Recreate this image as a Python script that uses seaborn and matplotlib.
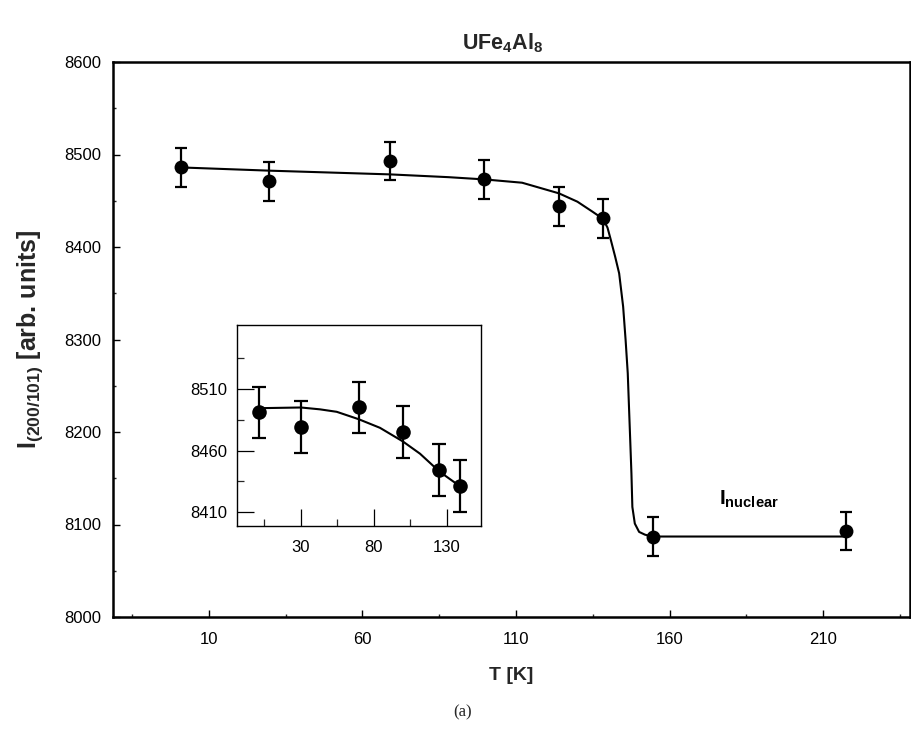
import matplotlib
matplotlib.use("Agg")
import matplotlib.pyplot as plt
import seaborn as sns
import pandas as pd

# ---- data ----
T_main = [1, 29.5, 69, 99.5, 124, 138.5, 154.5, 217.5]
I_main = [8486, 8471, 8493, 8473, 8444, 8431, 8087, 8093]
err_main = [21, 21, 21, 21, 21, 21, 21, 21]

fit_T = [1, 30, 69, 88, 100, 112, 124, 130, 135, 138.3, 139.8, 140.9, 142.3,
         143.6, 144.9, 145.7, 146.4, 146.8, 147.2, 147.6, 147.9, 148.7, 150.1,
         152, 154.4, 217.5]
fit_I = [8486, 8482.5, 8478.5, 8475.5, 8473, 8469.5, 8458, 8449, 8438, 8430.5,
         8421, 8407.5, 8389.5, 8371.5, 8335.5, 8299.5, 8263.5, 8227.5, 8191.5,
         8155, 8119, 8101, 8092, 8089, 8087, 8087]

T_inset = [1.7, 30.2, 69.7, 99.9, 125, 139.2]
I_inset = [8491, 8479, 8495, 8475, 8444, 8431]
err_inset = [21, 21, 21, 21, 21, 21]

fit_inset_T = [4.4, 30.2, 43.2, 54.7, 69.7, 84.3, 99.9, 111.7, 125, 139.1]
fit_inset_I = [8494.5, 8495, 8493.5, 8491.5, 8485.5, 8478.5, 8467.5, 8457.5, 8443, 8431]

main_xticks = [10, 60, 110, 160, 210]
main_xminor = [-15, 35, 85, 135, 185, 235]
main_yticks = [8000, 8100, 8200, 8300, 8400, 8500, 8600]
main_yminor = [8050, 8150, 8250, 8350, 8450, 8550]
inset_xticks = [30, 80, 130]
inset_xminor = [5, 55, 105]
inset_yticks = [8410, 8460, 8510]
inset_yminor = [8435, 8485, 8535]

# ---- style ----
sns.set_theme(style="ticks")
plt.rcParams["font.family"] = ["Liberation Sans", "DejaVu Sans"]
plt.rcParams["mathtext.fontset"] = "custom"
plt.rcParams["mathtext.rm"] = "Liberation Sans"
plt.rcParams["mathtext.bf"] = "Liberation Sans:bold"
plt.rcParams["mathtext.it"] = "Liberation Sans:italic"

W, H = 912, 730
fig = plt.figure(figsize=(W / 100, H / 100), dpi=100)
fig.patch.set_facecolor("white")

def frac(x0, y0, x1, y1):
    return [x0 / W, 1 - y1 / H, (x1 - x0) / W, (y1 - y0) / H]

ax = fig.add_axes(frac(112.7, 62, 910, 617))
ax.set_facecolor("white")

df_fit = pd.DataFrame({"T": fit_T, "I": fit_I})
df_pts = pd.DataFrame({"T": T_main, "I": I_main, "err": err_main})

sns.lineplot(data=df_fit, x="T", y="I", ax=ax, color="black", linewidth=1.5,
             sort=False, estimator=None)
ax.errorbar(df_pts["T"], df_pts["I"], yerr=df_pts["err"], fmt="none",
            ecolor="black", elinewidth=1.6, capsize=4.5, capthick=1.6, zorder=3)
sns.scatterplot(data=df_pts, x="T", y="I", ax=ax, color="black", s=100,
                edgecolor="black", linewidth=0, zorder=4)

ax.set_xlim(-21.3, 238.3)
ax.set_ylim(8000, 8600)
ax.set_xticks(main_xticks)
ax.set_xticks(main_xminor, minor=True)
ax.set_yticks(main_yticks)
ax.set_yticks(main_yminor, minor=True)
ax.tick_params(axis="both", which="major", direction="in", length=5, width=1,
               labelsize=12, pad=11, colors="black")
ax.tick_params(axis="both", which="minor", direction="in", length=2.5, width=1)
ax.tick_params(axis="y", which="major", pad=8)
for s in ax.spines.values():
    s.set_linewidth(1.8)
    s.set_color("black")
    s.set_visible(True)

ax.set_xlabel("T [K]", fontsize=14, fontweight="bold", labelpad=14)
ax.set_ylabel(r"$\mathbf{I}_{\mathbf{(200/101)}}$ [arb. units]", fontsize=18,
              fontweight="bold", labelpad=14)

ax.text(176, 8121, r"$\mathbf{I}_{\mathbf{nuclear}}$", fontsize=15,
        ha="left", va="baseline", color="black")

fig.text(503 / W, 1 - 43 / H, r"$\mathbf{UFe}_{\mathbf{4}}\mathbf{Al}_{\mathbf{8}}$",
         fontsize=15.5, ha="center", va="center")
fig.text(463 / W, 1 - 712 / H, "(a)", fontsize=12, ha="center", va="center",
         family=["Liberation Serif", "DejaVu Serif"])

# ---- inset ----
axi = fig.add_axes(frac(237.3, 325, 481, 525.7))
axi.set_facecolor("white")
df_fit_i = pd.DataFrame({"T": fit_inset_T, "I": fit_inset_I})
df_pts_i = pd.DataFrame({"T": T_inset, "I": I_inset, "err": err_inset})
sns.lineplot(data=df_fit_i, x="T", y="I", ax=axi, color="black", linewidth=1.5,
             sort=False, estimator=None)
axi.errorbar(df_pts_i["T"], df_pts_i["I"], yerr=df_pts_i["err"], fmt="none",
             ecolor="black", elinewidth=1.6, capsize=5, capthick=1.6, zorder=3)
sns.scatterplot(data=df_pts_i, x="T", y="I", ax=axi, color="black", s=110,
                edgecolor="black", linewidth=0, zorder=4)
axi.set_xlim(-13.4, 153.5)
axi.set_ylim(8399, 8562)
axi.set_xticks(inset_xticks)
axi.set_xticks(inset_xminor, minor=True)
axi.set_yticks(inset_yticks)
axi.set_yticks(inset_yminor, minor=True)
axi.tick_params(axis="both", which="major", direction="in", length=12, width=0.9,
                labelsize=12, colors="black")
axi.tick_params(axis="x", which="major", pad=10)
axi.tick_params(axis="y", which="major", pad=7)
axi.tick_params(axis="both", which="minor", direction="in", length=5, width=0.9)
for s in axi.spines.values():
    s.set_linewidth(1.0)
    s.set_color("black")
    s.set_visible(True)
axi.set_xlabel("")
axi.set_ylabel("")

fig.savefig("out.png", dpi=100, facecolor="white")
